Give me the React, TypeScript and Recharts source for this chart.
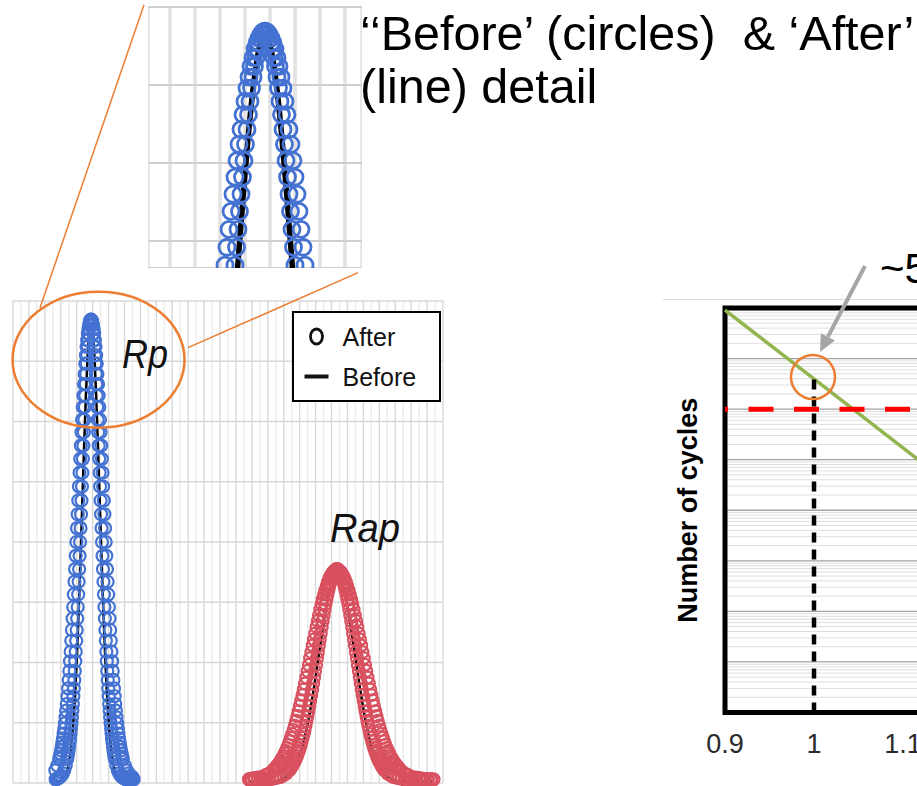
import React from 'react';
import {
  ComposedChart,
  Line,
  Scatter,
  XAxis,
  YAxis,
  CartesianGrid,
  Legend,
  ReferenceLine,
  ReferenceDot,
  ReferenceArea,
} from 'recharts';

const FONT = '"Liberation Sans", Arial, Helvetica, sans-serif';
const BLUE = '#4472d3';
const RED = '#d9505f';
const ORANGE = '#ed7d31';

// ---- left panel: resistance distribution (ohm) vs count ----
// "After" = circles (two sample columns per peak), "Before" = black line
const rpAfterR = [
  268, 277, 286, 295, 304, 313, 322, 331,
  340, 343, 346, 349, 352, 355, 358, 361, 364, 367,
  370, 373, 376, 379, 382, 385, 388, 391, 394, 397,
  400, 403, 406, 409, 412, 415, 418, 421, 424, 427,
  430, 433, 436, 439, 442, 445, 448, 451, 454, 457,
  460, 463, 466, 469, 472, 475, 478, 481, 484, 487,
  490,
  493, 496, 499, 502, 505, 508, 511, 514, 517, 520,
  523, 526, 529, 532, 535, 538, 541, 544, 547, 550,
  553, 556, 559, 562, 565, 568, 571, 574, 577, 580,
  583, 586, 589, 592, 595, 598, 601, 604, 607, 610,
  613, 616, 619, 622, 625, 628, 631, 634, 637, 640,
  649, 658, 667, 676, 685, 694, 703, 712, 721, 730, 739, 748, 757,
];
const rpAfterCount = [
  0.06, 0.07, 0.08, 0.1, 0.12, 0.16, 0.21, 0.29,
  0.4, 0.44, 0.49, 0.54, 0.6, 0.67, 0.74, 0.82, 0.9, 0.99,
  1.09, 1.2, 1.31, 1.44, 1.57, 1.71, 1.86, 2.02, 2.18, 2.36,
  2.54, 2.73, 2.92, 3.13, 3.34, 3.55, 3.77, 4.0, 4.23, 4.46,
  4.69, 4.92, 5.15, 5.38, 5.6, 5.82, 6.03, 6.24, 6.43, 6.62,
  6.79, 6.96, 7.1, 7.24, 7.35, 7.46, 7.54, 7.6, 7.65, 7.68,
  7.69,
  7.68, 7.65, 7.6, 7.54, 7.46, 7.35, 7.24, 7.1, 6.96, 6.79,
  6.62, 6.43, 6.24, 6.03, 5.82, 5.6, 5.38, 5.15, 4.92, 4.69,
  4.46, 4.23, 4.0, 3.77, 3.55, 3.34, 3.13, 2.92, 2.73, 2.54,
  2.36, 2.18, 2.02, 1.86, 1.71, 1.57, 1.44, 1.31, 1.2, 1.09,
  0.99, 0.9, 0.82, 0.74, 0.67, 0.6, 0.54, 0.49, 0.44, 0.4,
  0.29, 0.21, 0.16, 0.12, 0.1, 0.08, 0.07, 0.06, 0.06, 0.06, 0.06, 0.06, 0.06,
];
const rpAfterOuterR = [
  266, 278,
  290, 294, 298, 302, 306, 310, 314, 318, 322, 326,
  330, 334, 338, 342, 346, 350, 354, 358, 362, 366,
  370, 374, 378, 382, 386, 390, 394, 398, 402, 406,
  410, 414, 418, 422, 426, 430, 434, 438, 442, 446,
  450, 454, 458, 462, 466, 470, 474, 478, 482, 486,
  490,
  494, 498, 502, 506, 510, 514, 518, 522, 526, 530,
  534, 538, 542, 546, 550, 554, 558, 562, 566, 570,
  574, 578, 582, 586, 590, 594, 598, 602, 606, 610,
  614, 618, 622, 626, 630, 634, 638, 642, 646, 650,
  654, 658, 662, 666, 670, 674, 678, 682, 686, 690,
  702, 714, 726, 738, 750,
];
const rpAfterOuterCount = [
  0.21, 0.29,
  0.4, 0.44, 0.49, 0.54, 0.6, 0.67, 0.74, 0.82, 0.9, 0.99,
  1.09, 1.2, 1.31, 1.44, 1.57, 1.71, 1.86, 2.02, 2.18, 2.36,
  2.54, 2.73, 2.92, 3.13, 3.34, 3.55, 3.77, 4.0, 4.23, 4.46,
  4.69, 4.92, 5.15, 5.38, 5.6, 5.82, 6.03, 6.24, 6.43, 6.62,
  6.79, 6.96, 7.1, 7.24, 7.35, 7.46, 7.54, 7.6, 7.65, 7.68,
  7.69,
  7.68, 7.65, 7.6, 7.54, 7.46, 7.35, 7.24, 7.1, 6.96, 6.79,
  6.62, 6.43, 6.24, 6.03, 5.82, 5.6, 5.38, 5.15, 4.92, 4.69,
  4.46, 4.23, 4.0, 3.77, 3.55, 3.34, 3.13, 2.92, 2.73, 2.54,
  2.36, 2.18, 2.02, 1.86, 1.71, 1.57, 1.44, 1.31, 1.2, 1.09,
  0.99, 0.9, 0.82, 0.74, 0.67, 0.6, 0.54, 0.49, 0.44, 0.4,
  0.29, 0.21, 0.16, 0.12, 0.1,
];

const rapAfterR = [
  1482, 1500, 1518, 1536, 1554, 1572, 1590, 1608, 1626, 1644, 1662, 1680, 1698, 1716,
  1734, 1740, 1746, 1752, 1758, 1764, 1770, 1776, 1782, 1788,
  1794, 1800, 1806, 1812, 1818, 1824, 1830, 1836, 1842, 1848,
  1854, 1860, 1866, 1872, 1878, 1884, 1890, 1896, 1902, 1908,
  1914, 1920, 1926, 1932, 1938, 1944, 1950, 1956, 1962, 1968,
  1974, 1980, 1986, 1992, 1998, 2004, 2010, 2016, 2022, 2028,
  2034,
  2040, 2046, 2052, 2058, 2064, 2070, 2076, 2082, 2088, 2094,
  2100, 2106, 2112, 2118, 2124, 2130, 2136, 2142, 2148, 2154,
  2160, 2166, 2172, 2178, 2184, 2190, 2196, 2202, 2208, 2214,
  2220, 2226, 2232, 2238, 2244, 2250, 2256, 2262, 2268, 2274,
  2280, 2286, 2292, 2298, 2304, 2310, 2316, 2322, 2328, 2334,
  2352, 2370, 2388, 2406, 2424, 2442, 2460, 2478, 2496, 2514, 2532, 2550, 2568, 2586,
  2604, 2622, 2640,
];
const rapAfterCount = [
  0.06, 0.06, 0.06, 0.06, 0.06, 0.06, 0.06, 0.06, 0.07, 0.08, 0.09, 0.1, 0.13, 0.16,
  0.21, 0.23, 0.26, 0.28, 0.31, 0.34, 0.37, 0.41, 0.44, 0.49,
  0.53, 0.58, 0.63, 0.69, 0.75, 0.81, 0.88, 0.95, 1.03, 1.11,
  1.19, 1.28, 1.37, 1.46, 1.55, 1.65, 1.75, 1.86, 1.96, 2.07,
  2.17, 2.28, 2.38, 2.48, 2.59, 2.69, 2.78, 2.88, 2.97, 3.05,
  3.13, 3.2, 3.27, 3.33, 3.39, 3.43, 3.47, 3.5, 3.52, 3.54,
  3.55,
  3.54, 3.52, 3.5, 3.47, 3.43, 3.39, 3.33, 3.27, 3.2, 3.13,
  3.05, 2.97, 2.88, 2.78, 2.69, 2.59, 2.48, 2.38, 2.28, 2.17,
  2.07, 1.96, 1.86, 1.75, 1.65, 1.55, 1.46, 1.37, 1.28, 1.19,
  1.11, 1.03, 0.95, 0.88, 0.81, 0.75, 0.69, 0.63, 0.58, 0.53,
  0.49, 0.44, 0.41, 0.37, 0.34, 0.31, 0.28, 0.26, 0.23, 0.21,
  0.16, 0.13, 0.1, 0.09, 0.08, 0.07, 0.06, 0.06, 0.06, 0.06, 0.06, 0.06, 0.06, 0.06,
  0.06, 0.06, 0.06,
];
const rapAfterOuterR = [
  1490, 1514, 1538, 1562, 1586, 1610,
  1634, 1642, 1650, 1658, 1666, 1674, 1682, 1690, 1698, 1706,
  1714, 1722, 1730, 1738, 1746, 1754, 1762, 1770, 1778, 1786,
  1794, 1802, 1810, 1818, 1826, 1834, 1842, 1850, 1858, 1866,
  1874, 1882, 1890, 1898, 1906, 1914, 1922, 1930, 1938, 1946,
  1954, 1962, 1970, 1978, 1986, 1994, 2002, 2010, 2018, 2026,
  2034,
  2042, 2050, 2058, 2066, 2074, 2082, 2090, 2098, 2106, 2114,
  2122, 2130, 2138, 2146, 2154, 2162, 2170, 2178, 2186, 2194,
  2202, 2210, 2218, 2226, 2234, 2242, 2250, 2258, 2266, 2274,
  2282, 2290, 2298, 2306, 2314, 2322, 2330, 2338, 2346, 2354,
  2362, 2370, 2378, 2386, 2394, 2402, 2410, 2418, 2426, 2434,
  2458, 2482, 2506, 2530, 2554, 2578, 2602, 2626,
];
const rapAfterOuterCount = [
  0.07, 0.08, 0.09, 0.1, 0.13, 0.16,
  0.21, 0.23, 0.26, 0.28, 0.31, 0.34, 0.37, 0.41, 0.44, 0.49,
  0.53, 0.58, 0.63, 0.69, 0.75, 0.81, 0.88, 0.95, 1.03, 1.11,
  1.19, 1.28, 1.37, 1.46, 1.55, 1.65, 1.75, 1.86, 1.96, 2.07,
  2.17, 2.28, 2.38, 2.48, 2.59, 2.69, 2.78, 2.88, 2.97, 3.05,
  3.13, 3.2, 3.27, 3.33, 3.39, 3.43, 3.47, 3.5, 3.52, 3.54,
  3.55,
  3.54, 3.52, 3.5, 3.47, 3.43, 3.39, 3.33, 3.27, 3.2, 3.13,
  3.05, 2.97, 2.88, 2.78, 2.69, 2.59, 2.48, 2.38, 2.28, 2.17,
  2.07, 1.96, 1.86, 1.75, 1.65, 1.55, 1.46, 1.37, 1.28, 1.19,
  1.11, 1.03, 0.95, 0.88, 0.81, 0.75, 0.69, 0.63, 0.58, 0.53,
  0.49, 0.44, 0.41, 0.37, 0.34, 0.31, 0.28, 0.26, 0.23, 0.21,
  0.16, 0.13, 0.1, 0.09, 0.08, 0.07, 0.06, 0.06,
];

const rpBeforeR = [
  270, 281, 292, 303, 314, 325, 336, 347, 358, 369, 380, 391, 402, 413, 424, 435, 446,
  457, 468, 479, 490, 501, 512, 523, 534, 545, 556, 567, 578, 589, 600, 611, 622, 633,
  644, 655, 666, 677, 688, 699, 710,
];
const rpBeforeCount = [
  0.02, 0.03, 0.03, 0.04, 0.07, 0.1, 0.17, 0.28, 0.45, 0.7, 1.05, 1.53, 2.14, 2.88, 3.73,
  4.64, 5.55, 6.38, 7.05, 7.49, 7.64, 7.49, 7.05, 6.38, 5.55, 4.64, 3.73, 2.88, 2.14,
  1.53, 1.05, 0.7, 0.45, 0.28, 0.17, 0.1, 0.07, 0.04, 0.03, 0.03, 0.02,
];

const rapBeforeR = [
  1482, 1505, 1528, 1551, 1574, 1597, 1620, 1643, 1666, 1689, 1712, 1735, 1758, 1781,
  1804, 1827, 1850, 1873, 1896, 1919, 1942, 1965, 1988, 2011, 2034, 2057, 2080, 2103,
  2126, 2149, 2172, 2195, 2218, 2241, 2264, 2287, 2310, 2333, 2356, 2379, 2402, 2425,
  2448, 2471, 2494, 2517, 2540, 2563, 2586, 2609, 2632,
];
const rapBeforeCount = [
  0.02, 0.02, 0.02, 0.02, 0.02, 0.02, 0.03, 0.03, 0.04, 0.06, 0.09, 0.14, 0.21, 0.33,
  0.49, 0.7, 0.98, 1.31, 1.69, 2.1, 2.51, 2.89, 3.19, 3.39, 3.46, 3.39, 3.19, 2.89,
  2.51, 2.1, 1.69, 1.31, 0.98, 0.7, 0.49, 0.33, 0.21, 0.14, 0.09, 0.06, 0.04, 0.03,
  0.03, 0.02, 0.02, 0.02, 0.02, 0.02, 0.02, 0.02, 0.02,
];

const countTicks = [0, 1, 2, 3, 4, 5, 6, 7, 8];
const rTicks = [
  0, 100, 200, 300, 400, 500, 600, 700, 800, 900, 1000, 1100, 1200, 1300, 1400,
  1500, 1600, 1700, 1800, 1900, 2000, 2100, 2200, 2300, 2400, 2500, 2600, 2700,
];
const rMinorTicks = [
  50, 150, 250, 350, 450, 550, 650, 750, 850, 950, 1050, 1150, 1250, 1350, 1450,
  1550, 1650, 1750, 1850, 1950, 2050, 2150, 2250, 2350, 2450, 2550, 2650,
];
const insetRTicks = [300, 350, 400, 450, 500, 550, 600, 650];
const insetCountTicks = [5, 6, 7, 8];

// ---- right panel: number of cycles vs voltage ----
const cycleV = [0.9, 1.0, 1.1, 1.2, 1.3];
const cycleN = [9.1e7, 3.95e6, 1.71e5, 7.4e3, 322];
const vTicks = [0.9, 1, 1.1, 1.2, 1.3];
const decadeTicks = [1, 10, 1e2, 1e3, 1e4, 1e5, 1e6, 1e7, 1e8];
const targetCycles = 1e6;
const markV = 1.0;
const markN = 3.95e6;

const minorCycleTicks = decadeTicks
  .slice(0, -1)
  .flatMap((d) => [2, 3, 4, 5, 6, 7, 8, 9].map((m) => m * d));

const pairs = (xs: number[], ys: number[], kx: string, ky: string) =>
  xs.map((x, i) => ({ [kx]: x, [ky]: ys[i] }));

const rpAfter = [
  ...pairs(rpAfterR, rpAfterCount, 'r', 'count'),
  ...pairs(rpAfterOuterR, rpAfterOuterCount, 'r', 'count'),
];
const rapAfter = [
  ...pairs(rapAfterR, rapAfterCount, 'r', 'count'),
  ...pairs(rapAfterOuterR, rapAfterOuterCount, 'r', 'count'),
];
const rpBefore = pairs(rpBeforeR, rpBeforeCount, 'r', 'count');
const rapBefore = pairs(rapBeforeR, rapBeforeCount, 'r', 'count');
const cycleData = pairs(cycleV, cycleN, 'v', 'n');

const ring = (r: number, color: string, w: number) => (props: any) =>
  props.cx == null ? null : (
    <circle cx={props.cx} cy={props.cy} r={r} fill="none" stroke={color} strokeWidth={w} />
  );

const noTick = () => <g />;

// orange zoom ellipse + connector lines + label around the Rp peak
const RpCallout = (props: any) => {
  const { cx, cy } = props;
  if (cx == null) return null;
  return (
    <g>
      <ellipse cx={cx + 7.5} cy={cy + 40} rx={86} ry={68} fill="none" stroke={ORANGE} strokeWidth={2.5} />
      <line x1={cx - 51} y1={cy - 12} x2={cx + 53} y2={cy - 315} stroke={ORANGE} strokeWidth={1.5} />
      <line x1={cx + 97} y1={cy + 28} x2={cx + 267} y2={cy - 47} stroke={ORANGE} strokeWidth={1.5} />
      <text
        x={cx + 31}
        y={cy + 48}
        fontSize={40}
        fontStyle="italic"
        fontFamily={FONT}
        fill="#111"
        textLength={46}
        lengthAdjust="spacingAndGlyphs"
      >
        Rp
      </text>
    </g>
  );
};

const RapCallout = (props: any) => {
  const { cx, cy } = props;
  if (cx == null) return null;
  return (
    <text
      x={cx - 7}
      y={cy - 27}
      fontSize={40}
      fontStyle="italic"
      fontFamily={FONT}
      fill="#111"
      textLength={70}
      lengthAdjust="spacingAndGlyphs"
    >
      Rap
    </text>
  );
};

const LegendBox = () => (
  <div
    style={{
      width: 149,
      height: 91,
      boxSizing: 'border-box',
      border: '2.5px solid #000',
      background: '#fff',
    }}
  >
    <svg width={144} height={86} style={{ display: 'block' }}>
      <ellipse cx={22.5} cy={23.5} rx={6} ry={7.5} fill="none" stroke="#111" strokeWidth={2.8} />
      <line x1={10.5} y1={63.5} x2={34.5} y2={63.5} stroke="#111" strokeWidth={4} />
      <text x={48.5} y={32.5} fontSize={25} fontFamily={FONT} fill="#111">After</text>
      <text x={48.5} y={72.5} fontSize={25} fontFamily={FONT} fill="#111">Before</text>
    </svg>
  </div>
);

// grey arrow + circle + "~5" note pointing at the crossing point
const CrossingNote = (props: any) => {
  const { cx, cy } = props;
  if (cx == null) return null;
  const tip = { x: cx + 6, y: cy - 27 };
  const tail = { x: cx + 51, y: cy - 113 };
  const dx = tip.x - tail.x;
  const dy = tip.y - tail.y;
  const len = Math.sqrt(dx * dx + dy * dy);
  const ux = dx / len;
  const uy = dy / len;
  const bx = tip.x - ux * 17;
  const by = tip.y - uy * 17;
  return (
    <g>
      <circle cx={cx - 1} cy={cy - 2} r={22} fill="none" stroke={ORANGE} strokeWidth={2.5} />
      <line x1={tail.x} y1={tail.y} x2={bx} y2={by} stroke="#a6a6a6" strokeWidth={4} />
      <polygon
        points={`${tip.x},${tip.y} ${bx + uy * 8},${by - ux * 8} ${bx - uy * 8},${by + ux * 8}`}
        fill="#a6a6a6"
      />
      <text x={cx + 66} y={cy - 96} fontSize={42} fontFamily={FONT} fill="#000">
        ~5
      </text>
    </g>
  );
};

const DistributionChart = () => (
  <ComposedChart width={450} height={786} margin={{ top: 301, right: 7, bottom: 3, left: 13 }}>
    <XAxis type="number" dataKey="r" domain={[0, 2700]} ticks={rTicks} interval={0} hide />
    <YAxis type="number" dataKey="count" domain={[0, 8]} ticks={countTicks} interval={0} hide />
    <CartesianGrid horizontal={false} verticalValues={rMinorTicks} stroke="#ededed" strokeWidth={1.5} />
    <CartesianGrid stroke="#d8d8d8" strokeWidth={1.4} />
    <Scatter name="After" data={rpAfter} dataKey="count" shape={ring(6, BLUE, 2.2)} isAnimationActive={false} />
    <Scatter name="After " data={rapAfter} dataKey="count" shape={ring(6, RED, 2.2)} isAnimationActive={false} />
    <Line name="Before" data={rpBefore} dataKey="count" type="monotone" stroke="#000" strokeWidth={2.5} dot={false} isAnimationActive={false} />
    <Line name="Before " data={rapBefore} dataKey="count" type="monotone" stroke="#000" strokeWidth={2.5} dot={false} isAnimationActive={false} />
    <ReferenceDot x={2034} y={3.55} r={0} shape={RapCallout} />
    <ReferenceDot x={490} y={7.69} r={0} shape={RpCallout} />
    <Legend
      layout="vertical"
      align="center"
      verticalAlign="middle"
      content={LegendBox}
      wrapperStyle={{ left: 292, top: 311, width: 149, height: 91 }}
    />
  </ComposedChart>
);

const InsetChart = () => (
  <ComposedChart width={214} height={262} margin={{ top: 1, right: 0, bottom: 0, left: 0 }}>
    <XAxis type="number" dataKey="r" domain={[256, 684]} ticks={insetRTicks} interval={0} hide allowDataOverflow />
    <YAxis type="number" dataKey="count" domain={[4.654, 8]} ticks={insetCountTicks} interval={0} hide allowDataOverflow />
    <CartesianGrid horizontal={false} stroke="#e2e2e2" strokeWidth={3.5} />
    <CartesianGrid vertical={false} stroke="#cfcfcf" strokeWidth={2} />
    <Scatter data={rpAfter} dataKey="count" shape={ring(8, BLUE, 2.8)} isAnimationActive={false} />
    <Line data={rpBefore} dataKey="count" type="monotone" stroke="#000" strokeWidth={5.5} dot={false} isAnimationActive={false} />
  </ComposedChart>
);

const CyclesChart = () => (
  <ComposedChart width={481} height={546} margin={{ top: 68, right: 0, bottom: 33.5, left: 60 }}>
    <XAxis
      type="number"
      dataKey="v"
      domain={[0.9, 1.3]}
      ticks={vTicks}
      interval={0}
      height={40}
      tickSize={0}
      tickMargin={21}
      axisLine={false}
      tickLine={false}
      tick={{ fontSize: 27, fill: '#2a2a2a', fontFamily: FONT }}
    />
    <YAxis
      type="number"
      dataKey="n"
      scale="log"
      domain={[1, 1e8]}
      ticks={decadeTicks}
      interval={0}
      width={65}
      tick={noTick}
      tickLine={false}
      axisLine={false}
      label={{
        value: 'Number of cycles',
        angle: -90,
        position: 'insideLeft',
        offset: 27,
        style: { textAnchor: 'middle', fontSize: 27, fontWeight: 'bold', fill: '#000', fontFamily: FONT },
      }}
    />
    <CartesianGrid vertical={false} horizontalValues={minorCycleTicks} stroke="#dedede" />
    <CartesianGrid vertical={false} stroke="#a3a3a3" strokeWidth={1.3} />
    <ReferenceArea x1={0.9} x2={1.3} y1={1} y2={1e8} fill="none" stroke="#000" strokeWidth={5} ifOverflow="visible" />
    <Line data={cycleData} dataKey="n" type="linear" stroke="#93b54f" strokeWidth={3.5} dot={false} isAnimationActive={false} />
    <ReferenceLine y={targetCycles} stroke="#ff0000" strokeWidth={5} strokeDasharray="25 20.5" strokeDashoffset={22} />
    <ReferenceLine
      segment={[{ x: markV, y: 1 }, { x: markV, y: markN }]}
      stroke="#000"
      strokeWidth={4.5}
      strokeDasharray="10 7"
    />
    <ReferenceDot x={markV} y={markN} r={0} shape={CrossingNote} />
  </ComposedChart>
);

export default function App() {
  return (
    <div
      style={{
        position: 'fixed',
        left: 0,
        top: 0,
        width: 917,
        height: 786,
        overflow: 'hidden',
        background: '#fff',
        fontFamily: FONT,
      }}
    >
      <div style={{ position: 'absolute', left: 0, top: 0 }}>
        <DistributionChart />
      </div>
      <div style={{ position: 'absolute', left: 148, top: 6, width: 214, height: 262, overflow: 'hidden' }}>
        <InsetChart />
      </div>
      <div
        style={{
          position: 'absolute',
          left: 360,
          top: 7,
          fontSize: 48.5,
          lineHeight: '53px',
          whiteSpace: 'pre',
          color: '#000',
        }}
      >
        {'‘‘Before’ (circles)  & ‘After’'}
        <br />
        {'(line) detail'}
      </div>
      <div style={{ position: 'absolute', left: 663, top: 299, width: 260, borderTop: '1.5px solid #dadada' }} />
      <div style={{ position: 'absolute', left: 600, top: 240 }}>
        <CyclesChart />
      </div>
    </div>
  );
}
